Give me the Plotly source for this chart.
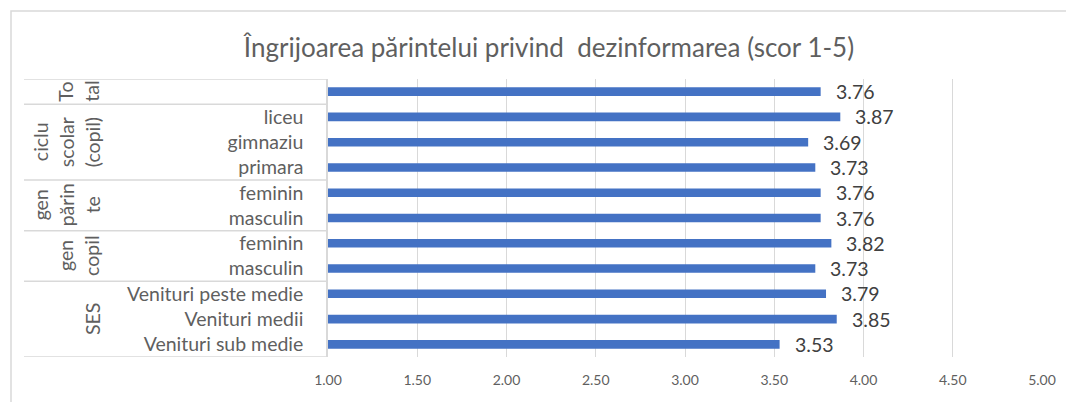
import plotly.graph_objects as go

# categorii (de jos în sus, ca în Excel) și valorile medii
categorii = ["Venituri sub medie", "Venituri medii", "Venituri peste medie",
             "masculin", "feminin",
             "masculin", "feminin",
             "primara", "gimnaziu", "liceu",
             ""]
grupuri = ["SES"] * 3 + ["gen copil"] * 2 + ["gen părinte"] * 2 + \
          ["ciclu scolar (copil)"] * 3 + ["Total"]
valori = [3.53, 3.85, 3.79, 3.73, 3.82, 3.76, 3.76, 3.73, 3.69, 3.87, 3.76]
# etichetele de grup sunt împărțite pe rânduri, ca în original
rupturi = {"SES": ["SES"], "gen copil": ["gen", "copil"],
           "gen părinte": ["gen", "părin", "te"],
           "ciclu scolar (copil)": ["ciclu", "scolar", "(copil)"],
           "Total": ["To", "tal"]}
x_ticks = [1.0, 1.5, 2.0, 2.5, 3.0, 3.5, 4.0, 4.5, 5.0]

TITLU = "Îngrijoarea părintelui privind  dezinformarea (scor 1-5)"
ALBASTRU = "#4472C4"
GRI_TXT = "#5f5f5f"
GRI_LIN = "#D9D9D9"
FONT = "Lato"

# pagina are margine de 8px în body -> figura e decalată cu 8px
OX, OY = 8, 8
W, H = 1074 - OX, 402 - OY
L, R, T, B = 328 - OX, 1042 - OX, 79 - OY, 357 - OY


def px(xp):  # pixel (în captură) -> paper
    return (xp - OX - L) / (R - L)


def py(yp):
    return (B - (yp - OY)) / (B - T)


poz = list(range(len(valori)))

fig = go.Figure(go.Bar(
    x=valori, y=poz, base=0, orientation="h",
    marker=dict(color=ALBASTRU, line_width=0), width=0.34,
    hoverinfo="x",
))

# etichete de date
for p, v in zip(poz, valori):
    fig.add_annotation(x=v, y=p, text=f"{v:.2f}", showarrow=False,
                       xanchor="left", xshift=13,
                       font=dict(family=FONT, size=19.5, color="#404040"))

# linii separatoare pentru grupuri + etichete rotite
limite = [-0.5]
for i in range(1, len(grupuri)):
    if grupuri[i] != grupuri[i - 1]:
        limite.append(i - 0.5)
limite.append(len(grupuri) - 0.5)
for yb in limite:
    fig.add_shape(type="line", xref="paper", yref="y", x0=px(24), x1=px(327),
                  y0=yb, y1=yb, line=dict(color=GRI_LIN, width=1.5))

vazute = []
for g in grupuri:
    if g not in vazute:
        vazute.append(g)
for g in vazute:
    idx = [i for i, gg in enumerate(grupuri) if gg == g]
    centru = (min(idx) + max(idx)) / 2
    linii = rupturi[g]
    n = len(linii)
    for k, txt in enumerate(linii):
        xp = 92 - 26 * (n - 1 - k)
        fig.add_annotation(x=px(xp), y=centru, xref="paper", yref="y",
                           xanchor="center", yanchor="middle",
                           text=txt, textangle=-90, showarrow=False,
                           font=dict(family=FONT, size=19.5, color=GRI_TXT))

# chenarul exterior al diagramei
fig.add_shape(type="rect", xref="paper", yref="paper",
              x0=px(11), x1=px(1090), y0=py(11), y1=py(420),
              line=dict(color=GRI_LIN, width=1.5))

fig.update_xaxes(range=[1, 5], tickvals=x_ticks, tickformat=".2f",
                 showgrid=True, gridcolor=GRI_LIN, gridwidth=1,
                 zeroline=False, showline=False, ticks="outside",
                 ticklen=10, tickcolor="rgba(0,0,0,0)", automargin=False,
                 tickfont=dict(family=FONT, size=14, color=GRI_TXT))
fig.update_yaxes(range=[-0.5, len(valori) - 0.5], tickmode="array",
                 tickvals=poz, ticktext=categorii,
                 showgrid=False, zeroline=False, automargin=False,
                 showline=True, linecolor=GRI_LIN, linewidth=1.5,
                 ticks="outside", ticklen=19, tickcolor="rgba(0,0,0,0)",
                 tickfont=dict(family=FONT, size=19.5, color=GRI_TXT))

fig.update_layout(
    width=W, height=H,
    title=dict(text=TITLU, x=(549 - OX) / W, xref="container",
               xanchor="center", y=1 - (48 - OY) / H, yref="container",
               yanchor="middle", automargin=False,
               font=dict(family=FONT, size=26, color=GRI_TXT)),
    margin=dict(l=L, r=W - R, t=T, b=H - B, pad=0, autoexpand=False),
    plot_bgcolor="white", paper_bgcolor="white",
    showlegend=False, bargap=0.66,
)

fig.write_html("out.html")
